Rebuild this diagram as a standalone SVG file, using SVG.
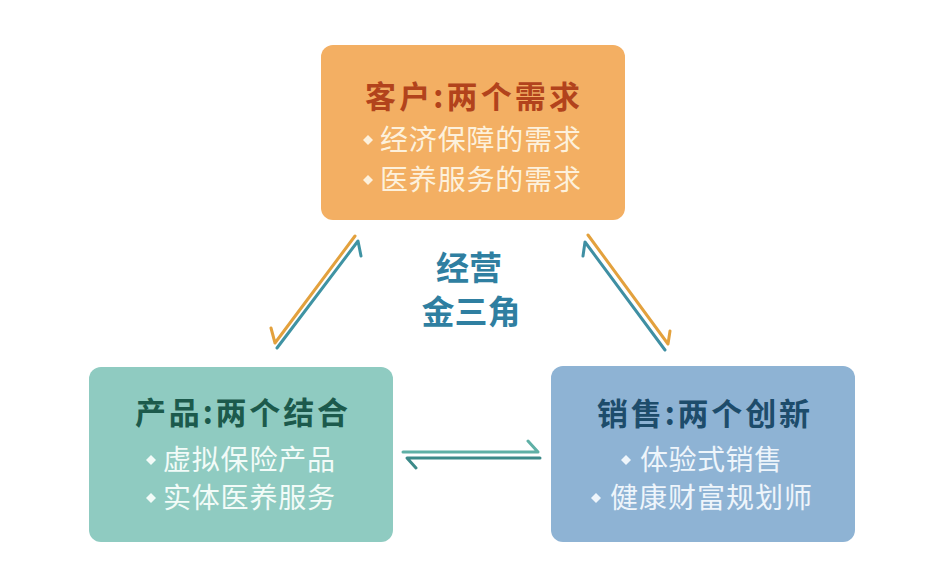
<svg xmlns="http://www.w3.org/2000/svg" width="945" height="568" viewBox="0 0 945 568">
<style>
.title{font-family:"Noto Sans CJK SC","Noto Sans",sans-serif;font-weight:700;font-size:31px}
.item{font-family:"Noto Sans CJK SC","Noto Sans",sans-serif;font-weight:400;font-size:28px}
.center{font-family:"Noto Sans CJK SC","Noto Sans",sans-serif;font-weight:700;font-size:33px;fill:#2f7fa1;text-anchor:middle}
.ln{fill:none;stroke-width:3;stroke-linecap:round;stroke-linejoin:round}
</style>
<defs>
<polygon id="dia" points="0,-5 5,0 0,5 -5,0"/>
</defs>
<rect width="945" height="568" fill="#ffffff"/>
<g id="customer">
<rect x="321" y="45" width="304" height="175" rx="12" fill="#f3af63"/>
<text class="title" x="365" y="108" fill="#b2431c" textLength="215" lengthAdjust="spacing">客户:两个需求</text>
<use href="#dia" x="368" y="140" fill="#fdf1dc"/>
<text class="item" x="380" y="150" fill="#fdf1dc" textLength="201" lengthAdjust="spacing">经济保障的需求</text>
<use href="#dia" x="368" y="180" fill="#fdf1dc"/>
<text class="item" x="380" y="190" fill="#fdf1dc" textLength="201" lengthAdjust="spacing">医养服务的需求</text>
</g>
<g id="product">
<rect x="89" y="367" width="304" height="175" rx="12" fill="#8fcbc1"/>
<text class="title" x="135" y="424" fill="#1c5a4c" textLength="213" lengthAdjust="spacing">产品:两个结合</text>
<use href="#dia" x="151" y="460" fill="#f2fbf8"/>
<text class="item" x="163" y="470" fill="#f2fbf8" textLength="172" lengthAdjust="spacing">虚拟保险产品</text>
<use href="#dia" x="151" y="498" fill="#f2fbf8"/>
<text class="item" x="163" y="508" fill="#f2fbf8" textLength="172" lengthAdjust="spacing">实体医养服务</text>
</g>
<g id="sales">
<rect x="551" y="366" width="304" height="176" rx="12" fill="#8eb3d4"/>
<text class="title" x="597" y="425" fill="#1d4c6b" textLength="213" lengthAdjust="spacing">销售:两个创新</text>
<use href="#dia" x="626" y="460" fill="#eef5fb"/>
<text class="item" x="640" y="470" fill="#eef5fb" textLength="142" lengthAdjust="spacing">体验式销售</text>
<use href="#dia" x="596" y="498" fill="#eef5fb"/>
<text class="item" x="610" y="508" fill="#eef5fb" textLength="202" lengthAdjust="spacing">健康财富规划师</text>
</g>
<g id="center-label">
<text class="center" x="469" y="280">经营</text>
<text class="center" x="471" y="324">金三角</text>
</g>
<g id="connectors">
<path class="ln" stroke="#e3a13d" d="M355,236 L275,343 L271,328"/>
<path class="ln" stroke="#3f93a3" d="M277,348 L358,241 L361,256"/>
<path class="ln" stroke="#e3a13d" d="M588,235 L668,344 L670,331"/>
<path class="ln" stroke="#3f8fa3" d="M665,350 L585,242 L583,256"/>
<path class="ln" stroke="#5fb0a6" d="M403,452 L538,452 L528,441"/>
<path class="ln" stroke="#3c8a89" d="M540,458 L407,458 L416,468"/>
</g>
</svg>
